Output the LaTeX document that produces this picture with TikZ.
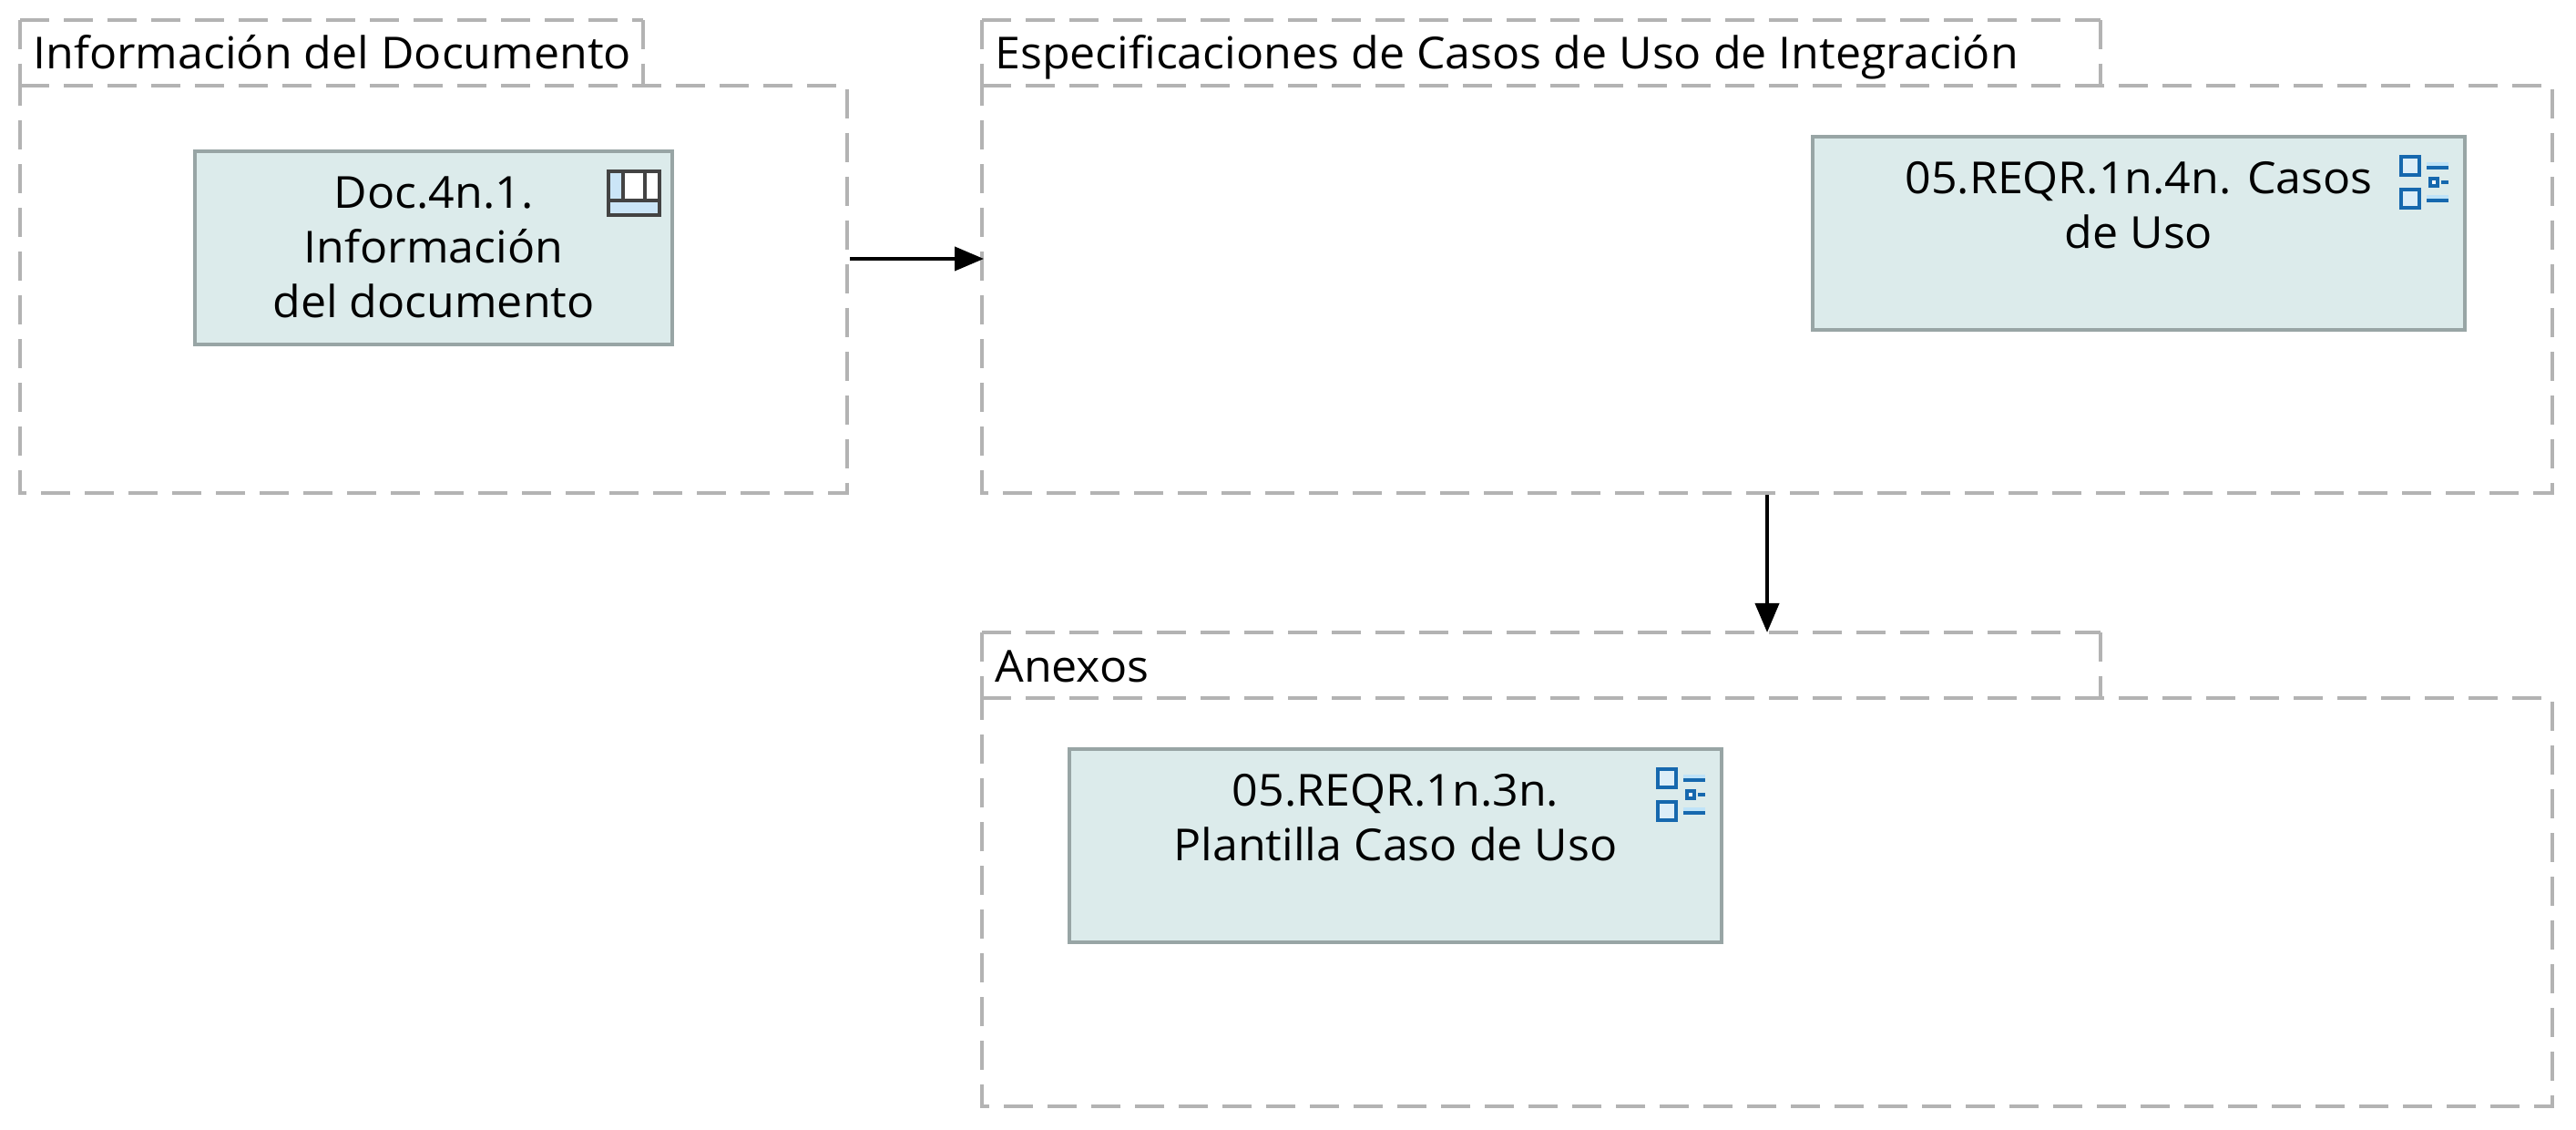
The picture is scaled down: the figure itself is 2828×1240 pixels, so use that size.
\documentclass[tikz,border=0pt]{standalone}
\usepackage{fontspec}
\setmainfont[FakeStretch=1.035]{Open Sans}
\usetikzlibrary{arrows.meta,fit,calc}
\definecolor{frameline}{HTML}{B3B3B3}
\definecolor{boxfill}{HTML}{DCEBEB}
\definecolor{boxline}{HTML}{98A5A5}
\definecolor{icondark}{HTML}{434343}
\definecolor{iconlight}{HTML}{CBE5F7}
\definecolor{listblue}{HTML}{1668AE}
\definecolor{listfill}{HTML}{DDEEF8}
\definecolor{listlight}{HTML}{BFE3F8}
\tikzset{
  framedash/.style={draw=frameline,line width=2pt,dash pattern=on 16pt off 8pt},
  ghost/.style={inner sep=0pt,outer sep=0pt},
  titletext/.style={anchor=base west,inner sep=0pt,font=\fontsize{24.2}{30}\selectfont},
  itemtext/.style={anchor=north,inner sep=0pt,align=center,font=\fontsize{24.2}{30}\selectfont},
  itembox/.style={draw=boxline,fill=boxfill,line width=2pt,inner sep=0pt,outer sep=0pt,minimum width=#1*0.5pt,minimum height=106pt,anchor=north west},
  conn/.style={draw=black,line width=2pt,-{Triangle[length=16pt,width=13pt]}},
  iconedge/.style={draw=icondark,line width=2pt},
  listedge/.style={draw=listblue,line width=2pt},
}
\newcommand{\dframe}[8]{%
  \coordinate (#1a) at (#2,#3);
  \coordinate (#1b) at (#4,#5);
  \coordinate (#1c) at (#2,#5);
  \coordinate (#1d) at (#6,#7);
  \node[ghost,fit=(#1a)(#1b)] (tab#1) {};
  \node[ghost,fit=(#1c)(#1d)] (body#1) {};
  \draw[framedash] (tab#1.north west) -- (tab#1.south west);
  \draw[framedash] (tab#1.north west) -- (tab#1.north east);
  \draw[framedash] (tab#1.north east) -- (tab#1.south east);
  \draw[framedash] (body#1.north west) -- (body#1.north east) -- (body#1.south east) -- (body#1.south west) -- (body#1.north west);
  \node[titletext] (title#1) at ($(tab#1.north west)+(14,54)$) {#8};
}
\newcommand{\listicon}[1]{%
  \begin{scope}[shift={(#1.north east)}]
    \draw[listedge,fill=listfill] (-70,22) rectangle (-50,42);
    \draw[listedge,fill=listfill] (-70,58) rectangle (-50,78);
    \fill[listlight] (-42,28) rectangle (-18,32);
    \fill[listblue] (-42,32) rectangle (-18,36);
    \draw[listedge,fill=white] (-38,46) rectangle (-30,54);
    \fill[listblue] (-26,48) rectangle (-18,52);
    \fill[listlight] (-42,64) rectangle (-18,68);
    \fill[listblue] (-42,68) rectangle (-18,72);
  \end{scope}
}
\begin{document}
\begin{tikzpicture}[x=0.5pt,y=-0.5pt]
  \useasboundingbox[fill=white] (0,0) rectangle (2828,1240);
  \dframe{A}{22}{22}{706}{94}{930}{541}{Información del Documento}
  \dframe{B}{1078}{22}{2306}{94}{2802}{541}{Especificaciones de Casos de Uso de Integración}
  \dframe{C}{1078}{694}{2306}{766}{2802}{1214}{Anexos}

  \node[itembox=524] (doc) at (214,166) {};
  \node[itemtext] (doctext) at ($(doc.north)+(0,20)$) {\strut Doc.4n.1.\\Información\\del documento};
  \begin{scope}[shift={(doc.north east)}]
    \fill[white] (-70,22) rectangle (-14,70);
    \fill[iconlight] (-70,22) rectangle (-54,52);
    \fill[iconlight] (-70,54) rectangle (-14,70);
    \draw[iconedge] (-70,22) rectangle (-14,70);
    \draw[iconedge] (-70,54) -- (-14,54);
    \draw[iconedge] (-54,22) -- (-54,54);
    \draw[iconedge] (-30,22) -- (-30,54);
  \end{scope}

  \node[itembox=716] (cases) at (1990,150) {};
  \node[itemtext] (casestext) at ($(cases.north)+(0,20)$) {\strut 05.REQR.1n.4n. Casos\\de Uso};
  \listicon{cases}

  \node[itembox=716] (templ) at (1174,822) {};
  \node[itemtext] (templtext) at ($(templ.north)+(0,20)$) {\strut 05.REQR.1n.3n.\\Plantilla Caso de Uso};
  \listicon{templ}

  \coordinate (linkY) at (0,284);
  \draw[conn] ([xshift=1.5pt]bodyA.east |- linkY) -- ([xshift=1pt]bodyB.west |- linkY);
  \draw[conn] ([yshift=-1pt]bodyB.south) -- (bodyB.south |- tabC.north);
\end{tikzpicture}
\end{document}
